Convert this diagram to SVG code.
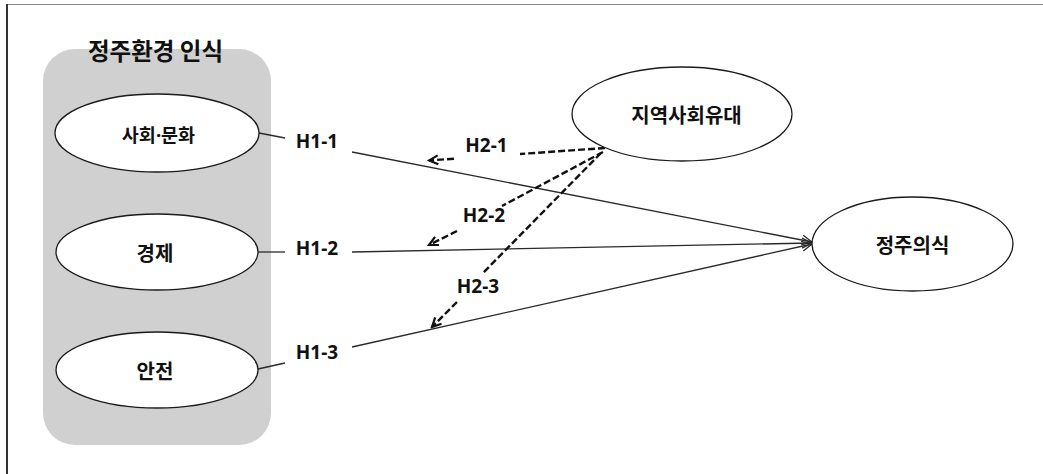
<svg xmlns="http://www.w3.org/2000/svg" width="1043" height="474" viewBox="0 0 1043 474">
  <defs>
    <style>
      .ell { fill: #ffffff; stroke: #1a1a1a; stroke-width: 1.3; }
      .kr { font-family: "Noto Sans CJK KR", "Noto Sans", sans-serif; font-weight: bold; fill: #111111; text-anchor: middle; dominant-baseline: central; }
      .lab { font-family: "Noto Sans", "Noto Sans CJK KR", sans-serif; font-weight: bold; font-size: 19px; fill: #111111; text-anchor: middle; }
      .solid { fill: none; stroke: #2a2a2a; stroke-width: 1.3; }
      .dash { fill: none; stroke: #111111; stroke-width: 2.4; stroke-dasharray: 7 3; }
    </style>
    <marker id="openArrow" markerUnits="userSpaceOnUse" markerWidth="14" markerHeight="14" viewBox="0 0 14 14" refX="12" refY="7" orient="auto">
      <path d="M2,2 L12,7 L2,12" fill="none" stroke="#2a2a2a" stroke-width="1.3"/>
    </marker>
    <marker id="dashArrow" markerUnits="userSpaceOnUse" markerWidth="14" markerHeight="14" viewBox="0 0 14 14" refX="12" refY="7" orient="auto">
      <path d="M3,2.5 L12,7 L3,11.5" fill="none" stroke="#111111" stroke-width="2.2"/>
    </marker>
  </defs>

  <rect x="0" y="0" width="1043" height="474" fill="#ffffff"/>
  <g id="frame">
    <line x1="6" y1="4.5" x2="1043" y2="4.5" stroke="#888888" stroke-width="1"/>
    <line x1="7" y1="4" x2="7" y2="474" stroke="#333333" stroke-width="2"/>
  </g>

  <g id="group-env">
    <rect x="43" y="49" width="228" height="396" rx="32" ry="32" fill="#d0d0d0"/>
    <text class="kr" x="155.5" y="50" font-size="23.5">정주환경 인식</text>
  </g>

  <g id="connectors">
    <line class="solid" x1="259" y1="133" x2="285" y2="138"/>
    <line class="solid" x1="352" y1="152" x2="812" y2="242" marker-end="url(#openArrow)"/>
    <line class="solid" x1="258" y1="252" x2="285" y2="252"/>
    <line class="solid" x1="352" y1="252" x2="812" y2="243" marker-end="url(#openArrow)"/>
    <line class="solid" x1="258" y1="369" x2="285" y2="363"/>
    <line class="solid" x1="352" y1="347" x2="812" y2="244" marker-end="url(#openArrow)"/>

    <line class="dash" x1="605" y1="148" x2="520" y2="154"/>
    <line class="dash" x1="454" y1="158.7" x2="429" y2="160.5" marker-end="url(#dashArrow)"/>
    <line class="dash" x1="603" y1="152" x2="502" y2="206"/>
    <line class="dash" x1="457" y1="231" x2="429" y2="245" marker-end="url(#dashArrow)"/>
    <line class="dash" x1="601" y1="153" x2="482" y2="274"/>
    <line class="dash" x1="457" y1="302" x2="432" y2="327" marker-end="url(#dashArrow)"/>

    <text class="lab" x="317" y="148">H1-1</text>
    <text class="lab" x="317" y="255">H1-2</text>
    <text class="lab" x="317" y="359">H1-3</text>
    <text class="lab" x="486.5" y="152">H2-1</text>
    <text class="lab" x="484" y="222">H2-2</text>
    <text class="lab" x="478" y="293">H2-3</text>
  </g>

  <g id="node-social">
    <ellipse class="ell" cx="157" cy="133" rx="102" ry="39"/>
    <text class="kr" x="158.5" y="134" font-size="18.5">사회<tspan font-family="Noto Sans, sans-serif">·</tspan>문화</text>
  </g>
  <g id="node-economy">
    <ellipse class="ell" cx="157" cy="252" rx="101" ry="38"/>
    <text class="kr" x="155" y="252.5" font-size="20">경제</text>
  </g>
  <g id="node-safety">
    <ellipse class="ell" cx="157" cy="370" rx="101" ry="38"/>
    <text class="kr" x="155" y="370" font-size="20">안전</text>
  </g>
  <g id="node-community">
    <ellipse class="ell" cx="682" cy="114" rx="110" ry="47"/>
    <text class="kr" x="686.5" y="114" font-size="20">지역사회유대</text>
  </g>
  <g id="node-settlement">
    <ellipse class="ell" cx="912.5" cy="244" rx="100.5" ry="47"/>
    <text class="kr" x="912.5" y="244" font-size="20">정주의식</text>
  </g>
</svg>
